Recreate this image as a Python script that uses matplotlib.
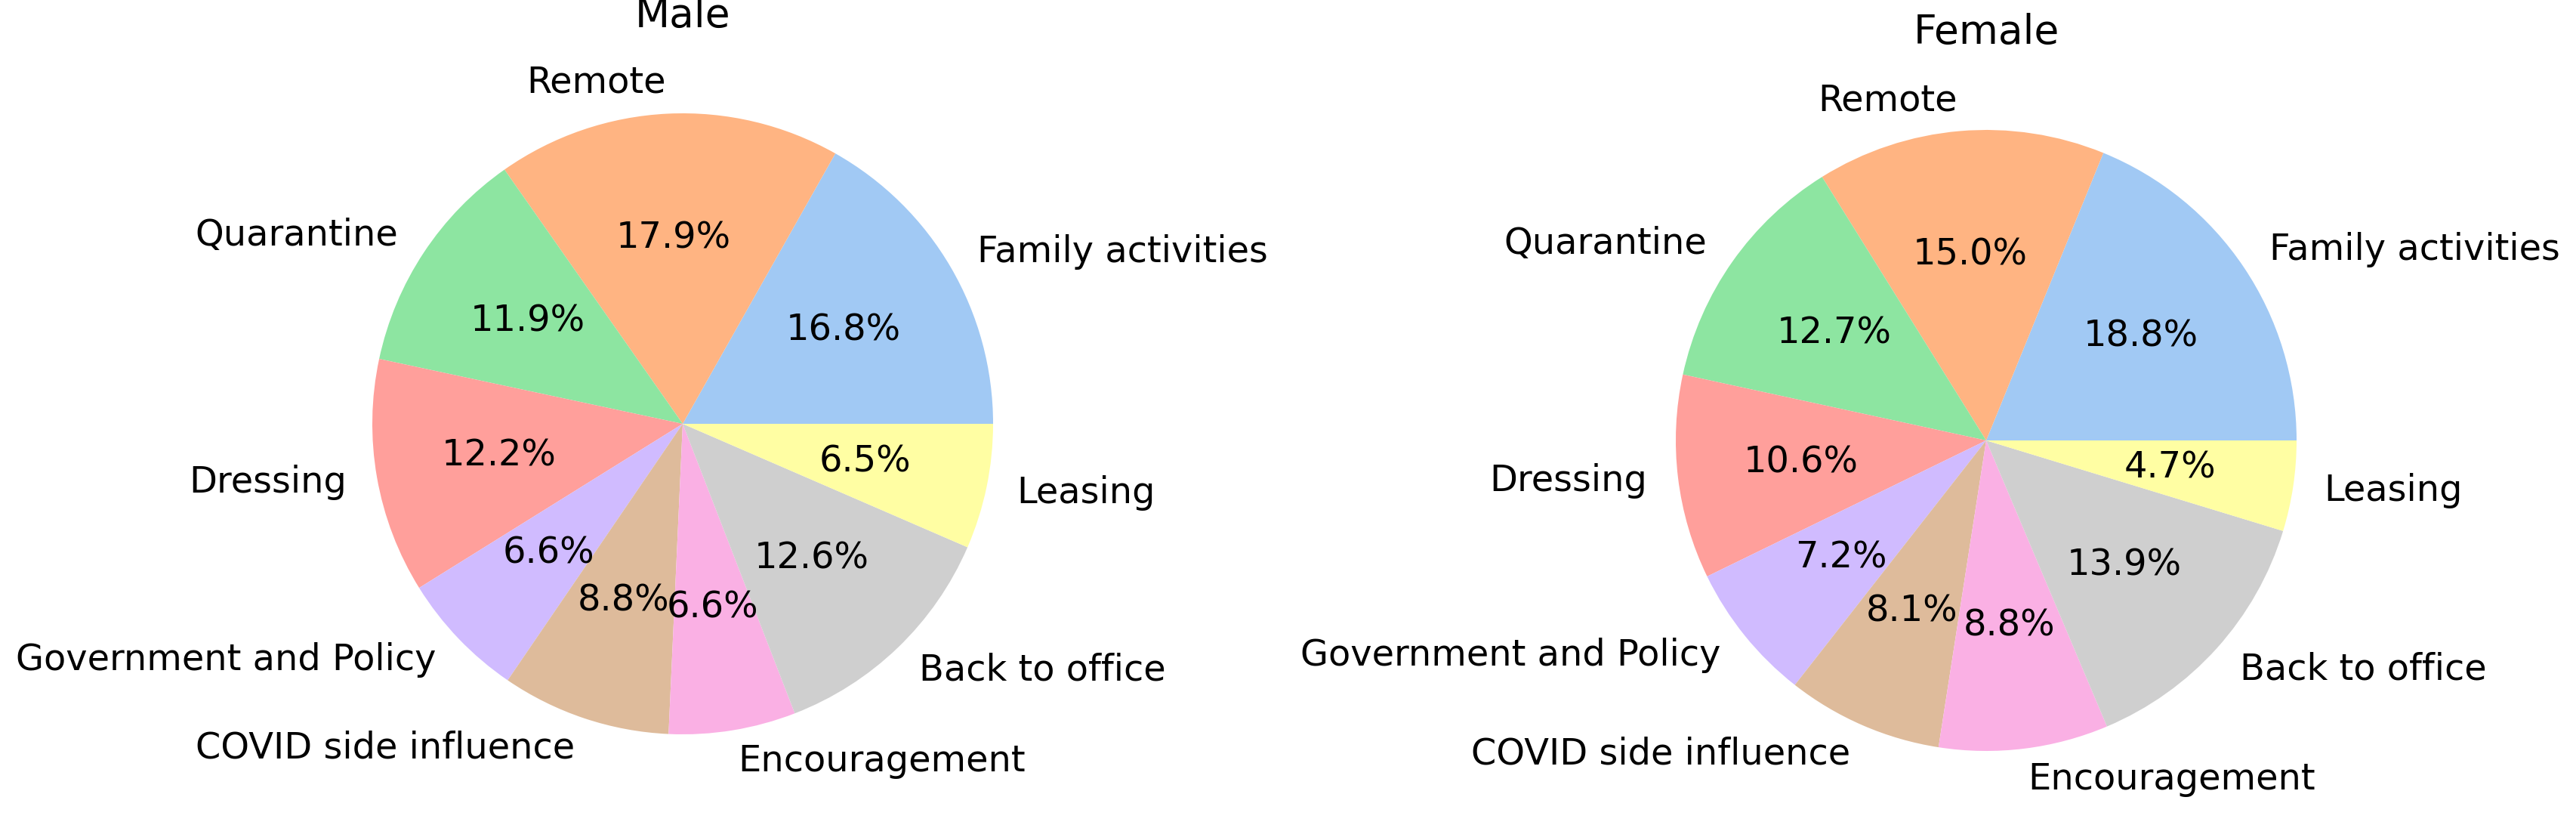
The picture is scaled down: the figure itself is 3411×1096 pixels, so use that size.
import matplotlib
matplotlib.use("Agg")
import matplotlib.pyplot as plt
import seaborn as sns

# ---------------------------------
# Data
# ---------------------------------

labels = [
    "Family activities",
    "Remote",
    "Quarantine",
    "Dressing",
    "Government and Policy",
    "COVID side influence",
    "Encouragement",
    "Back to office",
    "Leasing",
]

male_pct = [16.8, 17.9, 11.9, 12.2, 6.6, 8.8, 6.6, 12.6, 6.5]
female_pct = [18.8, 15.0, 12.7, 10.6, 7.2, 8.1, 8.8, 13.9, 4.7]

colors = sns.color_palette("pastel")[:9]

# ---------------------------------
# Figure
# ---------------------------------

fig = plt.figure(figsize=(34.12, 10.96), dpi=100)

W = 1027.5
ax_m = fig.add_axes([
    (904 - W / 2) / 3412,
    (1096 - 561 - W / 2) / 1096,
    W / 3412,
    W / 1096
])
ax_f = fig.add_axes([
    (2630 - W / 2) / 3412,
    (1096 - 583 - W / 2) / 1096,
    W / 3412,
    W / 1096
])

for ax, vals, title in [
    (ax_m, male_pct, "Male"),
    (ax_f, female_pct, "Female"),
]:
    ax.pie(
        vals,
        labels=labels,
        colors=colors,
        autopct="%.1f%%",
        textprops={"fontsize": 34.5},
    )
    ax.set_title(title, fontsize=38.5)

fig.savefig("out.png", dpi=100)
